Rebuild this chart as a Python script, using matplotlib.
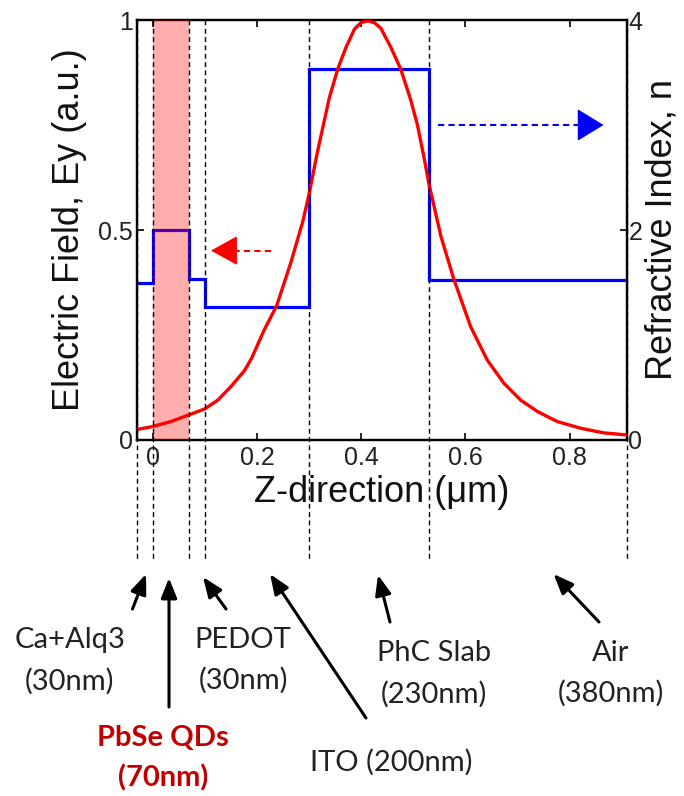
import numpy as np
import matplotlib
matplotlib.use("Agg")
import matplotlib.pyplot as plt

# ---------------- data ----------------
layer_names = ["Ca+Alq3", "PbSe QDs", "PEDOT", "ITO", "PhC Slab", "Air"]
layer_thickness_nm = [30, 70, 30, 200, 230, 380]
layer_start_um = -0.03
refractive_index = [1.50, 2.00, 1.53, 1.27, 3.53, 1.52]

z_field = [-0.03, 0.0, 0.035, 0.07, 0.10, 0.125, 0.15, 0.176, 0.19, 0.214,
           0.238, 0.265, 0.288, 0.30, 0.316, 0.339, 0.355, 0.371, 0.387, 0.40,
           0.413, 0.426, 0.438, 0.457, 0.476, 0.495, 0.508, 0.521, 0.53, 0.553,
           0.578, 0.61, 0.642, 0.674, 0.706, 0.738, 0.776, 0.821, 0.865, 0.91]
e_field = [0.025, 0.032, 0.044, 0.060, 0.074, 0.095, 0.127, 0.165, 0.195, 0.262,
           0.320, 0.422, 0.52, 0.585, 0.685, 0.815, 0.883, 0.935, 0.978, 0.994,
           0.998, 0.993, 0.98, 0.935, 0.883, 0.81, 0.75, 0.67, 0.61, 0.485,
           0.382, 0.27, 0.19, 0.135, 0.095, 0.068, 0.044, 0.028, 0.017, 0.012]

x_ticks = [0, 0.2, 0.4, 0.6, 0.8]
x_ticklabels = ["0", "0.2", "0.4", "0.6", "0.8"]
yl_ticks = [0, 0.5, 1]
yl_ticklabels = ["0", "0.5", "1"]
yr_ticks = [0, 2, 4]
yr_ticklabels = ["0", "2", "4"]

edges = layer_start_um + np.concatenate([[0], np.cumsum(layer_thickness_nm)]) / 1000.0

# ---------------- figure ----------------
W, H = 684, 796
fig = plt.figure(figsize=(W / 100, H / 100), dpi=100)
fig.patch.set_facecolor("white")

def px(x, y):
    return (x / W, 1 - y / H)

AX_L, AX_R, AX_T, AX_B = 137, 627, 20, 440
ax = fig.add_axes([AX_L / W, 1 - AX_B / H, (AX_R - AX_L) / W, (AX_B - AX_T) / H])
ax2 = ax.twinx()
ax.set_zorder(2)
ax2.set_zorder(1)
ax.patch.set_visible(False)

tick_font = dict(family="Liberation Sans", size=18, color="#222222")
label_font = dict(family="Liberation Sans", size=26, color="#111111")

# refractive index (right axis)
ax2.stairs(refractive_index, edges, color="#0000ff", lw=2.3, baseline=None)
ax2.set_ylim(0, 4)
ax2.set_yticks(yr_ticks)
ax2.set_yticklabels(yr_ticklabels, fontdict=tick_font)
ax2.tick_params(axis="y", direction="in", length=5, width=1.2, pad=1)

# electric field (left axis)
ax.plot(z_field, e_field, color="#ff0000", lw=2.4, zorder=4,
        solid_joinstyle="round", solid_capstyle="round")
ax.axvspan(edges[1], edges[2], color="#ff0000", alpha=0.32, lw=0, zorder=3)
ax.set_xlim(edges[0], edges[-1])
ax.set_ylim(0, 1)
ax.set_xticks(x_ticks)
ax.set_xticklabels(x_ticklabels, fontdict=tick_font)
ax.set_yticks(yl_ticks)
ax.set_yticklabels(yl_ticklabels, fontdict=tick_font)
ax.tick_params(axis="x", direction="in", length=5, width=1.2, top=True, pad=4)
ax.tick_params(axis="y", direction="in", length=5, width=1.2, pad=3)
for a in (ax, ax2):
    for s in a.spines.values():
        s.set_linewidth(1.6)

# vertical dashed layer boundaries, running below the axis
trans = ax.get_xaxis_transform()
y_low = (AX_B - 560) / (AX_B - AX_T)
for e in edges:
    ax.plot([e, e], [1, y_low], transform=trans, color="black", lw=1.0,
            ls=(0, (3.5, 2.5)), clip_on=False, zorder=5)

# direction arrows inside the plot
def dashed_arrow(x0, x1, y, color, head_len, head_w):
    sgn = np.sign(x1 - x0)
    ax.plot([x0, x1 - sgn * head_len * 0.6], [y, y], color=color, lw=1.5,
            ls=(0, (3, 2)), zorder=6)
    ax.annotate("", xy=(x1, y), xytext=(x1 - sgn * head_len, y),
                arrowprops=dict(arrowstyle="-|>,head_length=0.9,head_width=%g" % head_w,
                                color=color, lw=1.0, mutation_scale=19,
                                shrinkA=0, shrinkB=0), zorder=6)

dashed_arrow(0.228, 0.112, 0.451, "#ff0000", 0.03, 0.5)
dashed_arrow(0.547, 0.865, 0.75, "#0000ff", 0.035, 0.55)

# axis labels
fig.text(*px(382, 492), "Z-direction (\u03bcm)", ha="center", va="center", **label_font)
fig.text(*px(70, 230), "Electric Field, Ey (a.u.)", rotation=90, ha="center", va="center", **label_font)
fig.text(*px(662, 230), "Refractive Index, n", rotation=90, ha="center", va="center", **label_font)

# layer annotations
ann_font = dict(family="Lato", size=21)
text_pos = {
    "Ca+Alq3": (70, 640, 681),
    "PbSe QDs": (163, 738, 778),
    "PEDOT": (243, 640, 680),
    "PhC Slab": (434, 653, 694),
    "Air": (611, 653, 693),
}
for name, t in zip(layer_names, layer_thickness_nm):
    if name == "ITO":
        fig.text(*px(391, 762), "%s (%dnm)" % (name, t), ha="center", va="center",
                 color="#222222", **ann_font)
        continue
    x, y1, y2 = text_pos[name]
    if name == "PbSe QDs":
        kw = dict(color="#c00000", fontweight="bold")
    else:
        kw = dict(color="#222222")
    fig.text(*px(x, y1), name, ha="center", va="center", **ann_font, **kw)
    fig.text(*px(x, y2), "(%dnm)" % t, ha="center", va="center", **ann_font, **kw)

arrow_px = [((132.5, 609), (146, 574)),
            ((169, 707), (169, 578)),
            ((226, 609), (203, 577)),
            ((366, 718), (270, 574)),
            ((390, 622), (378, 575)),
            ((599, 622), (553.5, 574))]
for tail, head in arrow_px:
    fig.add_artist(matplotlib.patches.FancyArrowPatch(
        px(*tail), px(*head), transform=fig.transFigure,
        arrowstyle="-|>,head_length=0.55,head_width=0.22", mutation_scale=22,
        color="black", lw=2.2, shrinkA=0, shrinkB=0))

fig.savefig("out.png", dpi=100, facecolor="white")
